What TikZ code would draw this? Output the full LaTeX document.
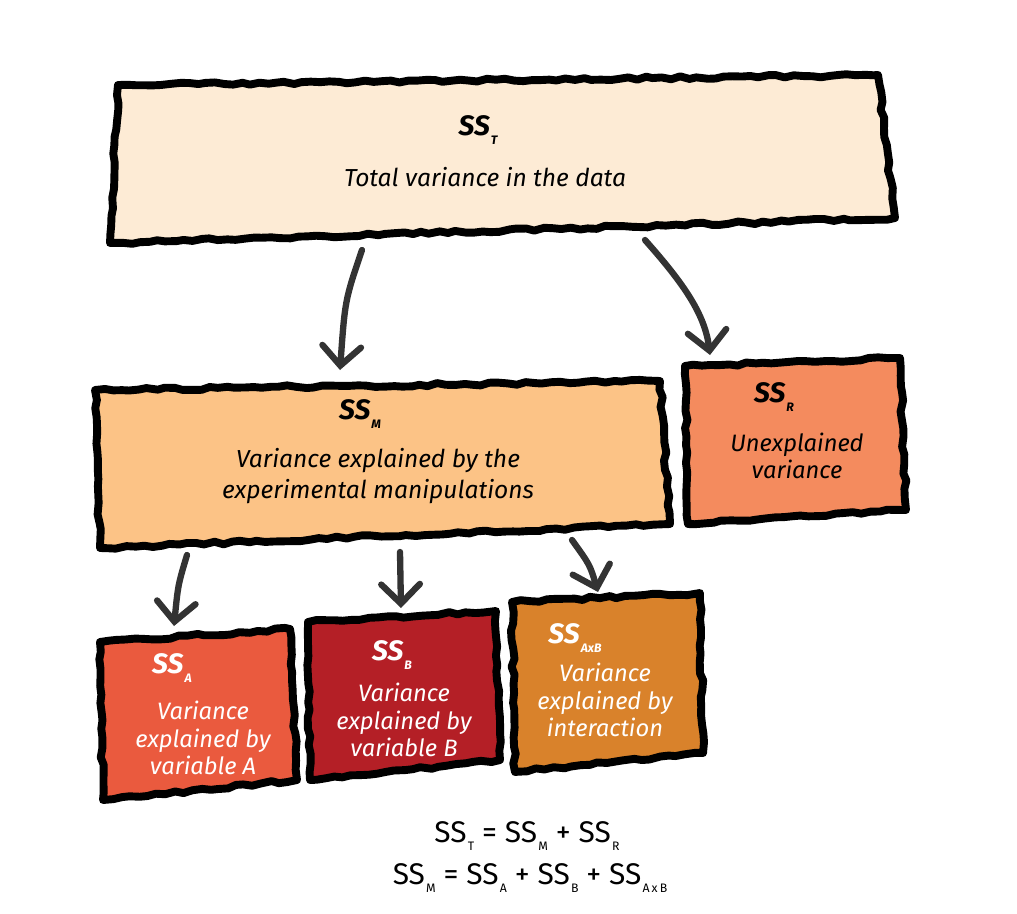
\documentclass[tikz,border=0pt]{standalone}
\usepackage{fontspec}
\setmainfont{Fira Sans}
\usetikzlibrary{arrows.meta,decorations.pathmorphing}
\definecolor{cT}{HTML}{FDEBD5}
\definecolor{cM}{HTML}{FCC386}
\definecolor{cR}{HTML}{F48B5E}
\definecolor{cA}{HTML}{EA5A3E}
\definecolor{cB}{HTML}{B41F26}
\definecolor{cX}{HTML}{D9822B}
\definecolor{arr}{HTML}{333333}
\newcommand{\ssub}[2]{#1\kern0.04em\raisebox{-0.55ex}{\fontsize{7}{8}\selectfont #2}}
\begin{document}
\begin{tikzpicture}[x=0.02cm,y=-0.02cm,
  box/.style={draw=black, line width=4.5pt, line join=round,
    decorate, decoration={random steps,segment length=5pt,amplitude=0.9pt}},
  conn/.style={draw=arr, line width=3.6pt, line cap=round,
    -{Straight Barb[length=11pt,width=22pt,line cap=round]}},
  lab/.style={font=\fontsize{16}{18}\selectfont\itshape\bfseries},
  txt/.style={font=\fontsize{14}{18}\selectfont\itshape, align=center},
  stxt/.style={font=\fontsize{13.5}{15.5}\selectfont\itshape, align=center},
  eq/.style={font=\fontsize{17}{19}\selectfont}
]
\useasboundingbox (0,0) rectangle (1017,913);
\pgfmathsetseed{11}
% boxes
\path[box, fill=cT] (118,85) -- (878,75) -- (895,218) -- (110,243) -- cycle;
\path[box, fill=cM] (95,390) -- (660,381) -- (670,524) -- (100,548) -- cycle;
\path[box, fill=cR] (685,366) -- (900,358) -- (906,510) -- (688,524) -- cycle;
\path[box, fill=cA] (100,642) -- (290,629) -- (297,780) -- (103,800) -- cycle;
\path[box, fill=cB] (308,622) -- (496,611) -- (500,760) -- (310,780) -- cycle;
\path[box, fill=cX] (512,602) -- (700,593) -- (703,753) -- (515,772) -- cycle;
% texts
\node[lab] (Tss) at (478,130) {\ssub{SS}{T}};
\node[txt] (Tt) at (485,177) {Total variance in the data};
\node[lab] (Mss) at (360,414) {\ssub{SS}{M}};
\node[txt] (Mt) at (378,476) {Variance explained by the\\experimental manipulations};
\node[lab] (Rss) at (774,397) {\ssub{SS}{R}};
\node[stxt] (Rt) at (797,456) {Unexplained\\variance};
\node[lab, white] (Ass) at (172,668) {\ssub{SS}{A}};
\node[stxt, white] (At) at (203,738) {Variance\\explained by\\variable A};
\node[lab, white] (Bss) at (392,655) {\ssub{SS}{B}};
\node[stxt, white] (Bt) at (404,720) {Variance\\explained by\\variable B};
\node[lab, white] (Xss) at (575,638) {\ssub{SS}{AxB}};
\node[stxt, white] (Xt) at (605,700) {Variance\\explained by\\interaction};
% equations
\node[eq] (eq1) at (527,836) {\ssub{SS}{T} = \ssub{SS}{M} + \ssub{SS}{R}};
\node[eq] (eq2) at (530,878) {\ssub{SS}{M} = \ssub{SS}{A} + \ssub{SS}{B} + \ssub{SS}{A\,x\,B}};
% connector anchor points
\coordinate (Tl) at (362,250);
\coordinate (Tr) at (645,240);
\coordinate (Min) at (340,370);
\coordinate (Rin) at (710,355);
\coordinate (Ml) at (187,555);
\coordinate (Mc) at (400,552);
\coordinate (Mr) at (572,540);
\coordinate (Ain) at (174,626);
\coordinate (Bin) at (401,608);
\coordinate (Xin) at (598,592);
\draw[conn] (Tl) .. controls (345,300) .. (Min);
\draw[conn] (Tr) .. controls (685,285) and (705,315) .. (Rin);
\draw[conn] (Ml) .. controls (178,585) .. (Ain);
\draw[conn] (Mc) -- (Bin);
\draw[conn] (Mr) .. controls (590,565) .. (Xin);
\end{tikzpicture}
\end{document}
